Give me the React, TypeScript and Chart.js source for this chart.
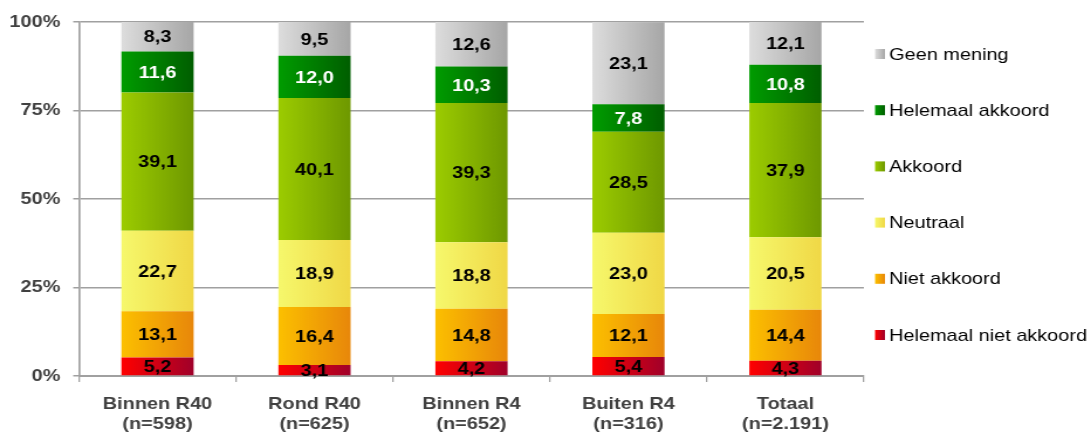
import React, { useEffect, useRef } from "react";
import { Chart, registerables } from "chart.js";

Chart.register(...registerables);

const categories: string[][] = [
  ["Binnen R40", "(n=598)"],
  ["Rond R40", "(n=625)"],
  ["Binnen R4", "(n=652)"],
  ["Buiten R4", "(n=316)"],
  ["Totaal", "(n=2.191)"],
];

const helemaalNietAkkoord = [5.2, 3.1, 4.2, 5.4, 4.3];
const nietAkkoord = [13.1, 16.4, 14.8, 12.1, 14.4];
const neutraal = [22.7, 18.9, 18.8, 23.0, 20.5];
const akkoord = [39.1, 40.1, 39.3, 28.5, 37.9];
const helemaalAkkoord = [11.6, 12.0, 10.3, 7.8, 10.8];
const geenMening = [8.3, 9.5, 12.6, 23.1, 12.1];

const seriesLabels = [
  "Helemaal niet akkoord",
  "Niet akkoord",
  "Neutraal",
  "Akkoord",
  "Helemaal akkoord",
  "Geen mening",
];

const yTickValues = [0, 25, 50, 75, 100];

const FONT = "'Liberation Sans', Arial, sans-serif";
const BAR_FRACTION = 0.46;
// The reference is rendered horizontally stretched: draw on a narrower canvas and stretch it with CSS.
const CSS_W = 1091;
const CSS_H = 432;
const CANVAS_W = 932;

const gradientStops: [string, string][] = [
  ["#ff0000", "#a0002a"],
  ["#fcc000", "#e8870a"],
  ["#f6f86c", "#f0d846"],
  ["#9ccc00", "#6e9800"],
  ["#009c00", "#005e00"],
  ["#dddddd", "#a6a6a6"],
];
const labelColors = ["#000", "#000", "#000", "#000", "#fff", "#000"];

function makeBg(seriesIndex: number) {
  return (ctx: any) => {
    const [c0, c1] = gradientStops[seriesIndex];
    const chart = ctx.chart;
    if (ctx.type !== "data" || !chart.chartArea || !chart.scales.x) return c0;
    const xs = chart.scales.x;
    const cx = xs.getPixelForValue(ctx.dataIndex);
    const half = ((xs.width / categories.length) * BAR_FRACTION) / 2;
    const g = chart.ctx.createLinearGradient(cx - half, 0, cx + half, 0);
    g.addColorStop(0, c0);
    g.addColorStop(1, c1);
    return g;
  };
}

const dataLabelPlugin = {
  id: "dataLabels",
  afterDatasetsDraw(chart: any) {
    const c = chart.ctx;
    c.save();
    c.font = `bold 17px ${FONT}`;
    c.textAlign = "center";
    c.textBaseline = "middle";
    chart.data.datasets.forEach((ds: any, di: number) => {
      const meta = chart.getDatasetMeta(di);
      meta.data.forEach((el: any, i: number) => {
        const p = el.getProps(["x", "y", "base"], true);
        const v = ds.data[i] as number;
        c.fillStyle = labelColors[di];
        c.fillText(v.toFixed(1).replace(".", ","), p.x, (p.y + p.base) / 2 + 1);
      });
    });
    c.restore();
  },
};

const customLegendPlugin = {
  id: "customLegend",
  afterDraw(chart: any) {
    const c = chart.ctx;
    const area = chart.chartArea;
    const x0 = area.right + 9.5;
    const yStart = area.top + 32;
    const step = 56.2;
    c.save();
    c.font = `17px ${FONT}`;
    c.textBaseline = "middle";
    c.textAlign = "left";
    const n = chart.data.datasets.length;
    for (let k = 0; k < n; k++) {
      const di = n - 1 - k;
      const y = yStart + k * step;
      const [c0, c1] = gradientStops[di];
      const g = c.createLinearGradient(x0, 0, x0 + 8.5, 0);
      g.addColorStop(0, c0);
      g.addColorStop(1, c1);
      c.fillStyle = g;
      c.fillRect(x0, y - 5, 8.5, 10);
      c.fillStyle = "#000";
      c.fillText(chart.data.datasets[di].label, x0 + 12, y + 1);
    }
    c.restore();
  },
};

export default function App() {
  const ref = useRef<HTMLCanvasElement | null>(null);
  useEffect(() => {
    if (!ref.current) return;
    const series = [
      helemaalNietAkkoord,
      nietAkkoord,
      neutraal,
      akkoord,
      helemaalAkkoord,
      geenMening,
    ];
    const chart = new Chart(ref.current, {
      type: "bar",
      data: {
        labels: categories,
        datasets: series.map((d, i) => ({
          label: seriesLabels[i],
          data: d,
          backgroundColor: makeBg(i),
          borderWidth: 0,
          barPercentage: BAR_FRACTION,
          categoryPercentage: 1,
        })),
      },
      options: {
        animation: false,
        responsive: false,
        maintainAspectRatio: false,
        devicePixelRatio: 1,
        layout: { padding: { top: 22, right: 194, left: 0, bottom: 0 } },
        plugins: {
          legend: { display: false },
          tooltip: { enabled: false },
        },
        scales: {
          x: {
            stacked: true,
            grid: {
              display: true,
              drawOnChartArea: false,
              drawTicks: true,
              tickLength: 6,
              color: "#a0a0a0",
              lineWidth: 1.3,
            },
            border: { display: true, color: "#a0a0a0", width: 2 },
            ticks: {
              color: "#404040",
              font: { family: FONT, size: 17, weight: "bold", lineHeight: 1.18 },
              padding: 12,
              maxRotation: 0,
              autoSkip: false,
            },
            afterFit: (s: any) => {
              s.height = 56;
            },
          },
          y: {
            stacked: true,
            min: 0,
            max: 100,
            afterBuildTicks: (s: any) => {
              s.ticks = yTickValues.map((v) => ({ value: v }));
            },
            grid: {
              color: "#a0a0a0",
              lineWidth: 1.5,
              tickLength: 5,
              drawTicks: true,
            },
            border: { display: true, color: "#a0a0a0", width: 1.7 },
            ticks: {
              color: "#404040",
              font: { family: FONT, size: 17, weight: "bold" },
              padding: 11,
              callback: (v: any) => `${v}%`,
            },
            afterFit: (s: any) => {
              s.width = 67.5;
            },
          },
        },
      },
      plugins: [dataLabelPlugin, customLegendPlugin],
    });
    return () => chart.destroy();
  }, []);
  return (
    <div style={{ position: "absolute", left: 0, top: 0, width: CSS_W, height: CSS_H }}>
      <canvas
        ref={ref}
        width={CANVAS_W}
        height={CSS_H}
        style={{ width: CSS_W, height: CSS_H, display: "block" }}
      />
    </div>
  );
}
